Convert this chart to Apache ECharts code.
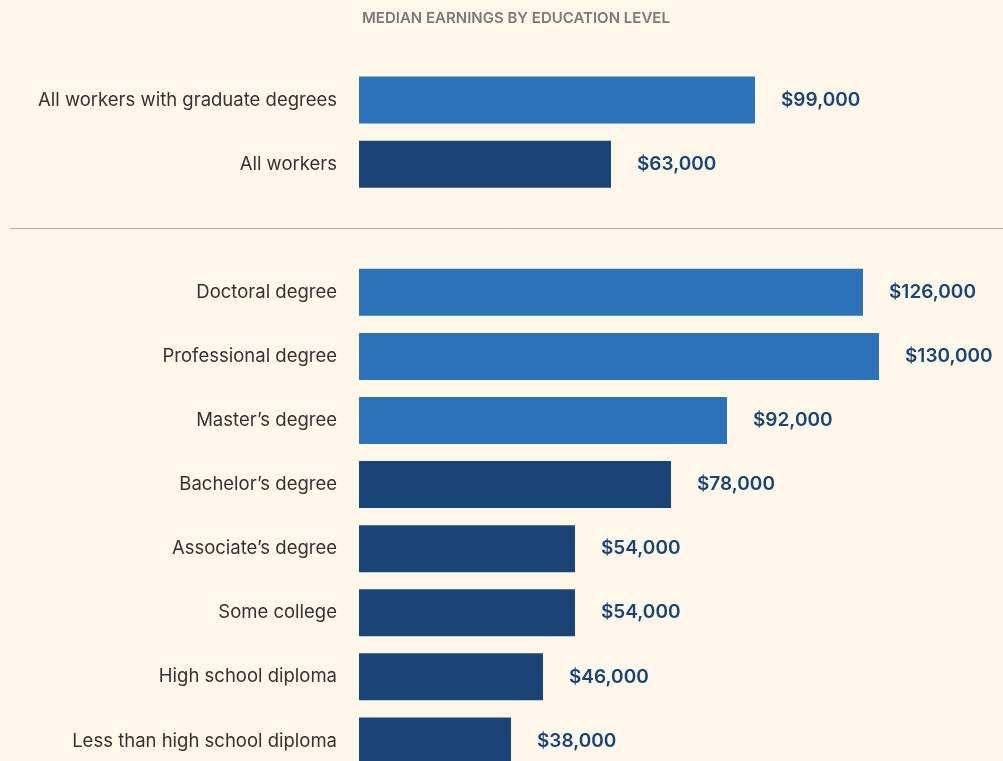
<!DOCTYPE html>
<html>
<head>
<meta charset="utf-8">
<title>Median earnings by education level</title>
<script src="https://cdn.jsdelivr.net/npm/echarts@6/dist/echarts.min.js"></script>
<style>
html, body { margin: 0; padding: 0; background: #fff7ea; overflow: hidden; }
/* a little taller than the window: the last row is cut off at the bottom edge */
#chart { width: 1003px; height: 773px; }
</style>
</head>
<body>
<div id="chart"></div>
<script>
// '' marks the gap where the divider line sits
var categories = ['All workers with graduate degrees', 'All workers', '',
	'Doctoral degree', 'Professional degree', 'Master\u2019s degree', 'Bachelor\u2019s degree',
	'Associate\u2019s degree', 'Some college', 'High school diploma', 'Less than high school diploma'];
var earnings = [99000, 63000, null, 126000, 130000, 92000, 78000, 54000, 54000, 46000, 38000];
var graduateLevels = ['All workers with graduate degrees', 'Doctoral degree', 'Professional degree', 'Master\u2019s degree'];

var lightBlue = '#2c73ba';
var darkBlue = '#1a4476';

var myChart = echarts.init(document.getElementById('chart'));

var option = {
	backgroundColor : '#fff7ea',
	textStyle : { fontFamily : 'Inter' },
	title : {
		text : 'MEDIAN EARNINGS BY EDUCATION LEVEL',
		left : 357,
		top : 6,
		textStyle : {
			color : '#7a7a7a',
			fontSize : 15,
			fontWeight : 600,
			fontFamily : 'Inter'
		}
	},
	grid : {
		left : 359,
		top : 68,
		width : 600,
		bottom : 0
	},
	xAxis : {
		type : 'value',
		min : 0,
		max : 150000,
		show : false
	},
	yAxis : {
		type : 'category',
		data : categories,
		inverse : true,
		axisLine : { show : false },
		axisTick : { show : false },
		splitLine : { show : false },
		axisLabel : {
			margin : 22,
			color : '#333333',
			fontSize : 18.5,
			fontFamily : 'Inter'
		}
	},
	series : [ {
		type : 'bar',
		barWidth : 47,
		data : earnings.map(function(v, i) {
			return {
				value : v,
				itemStyle : {
					color : graduateLevels.indexOf(categories[i]) >= 0 ? lightBlue : darkBlue
				}
			};
		}),
		label : {
			show : true,
			position : 'right',
			distance : 26,
			color : darkBlue,
			fontSize : 19,
			fontWeight : 600,
			fontFamily : 'Inter',
			formatter : function(p) {
				return p.value == null ? '' : '$' + p.value.toLocaleString('en-US');
			}
		},
		silent : true
	} ]
};
myChart.setOption(option);

// divider between the summary rows and the detailed levels
var lineY = Math.round(myChart.convertToPixel({ yAxisIndex : 0 }, 2)) + 0.5;
myChart.setOption({
	graphic : [ {
		type : 'line',
		shape : { x1 : 10, y1 : lineY, x2 : 1003, y2 : lineY },
		style : { stroke : '#b5aca2', lineWidth : 1 }
	} ]
});
</script>
</body>
</html>
